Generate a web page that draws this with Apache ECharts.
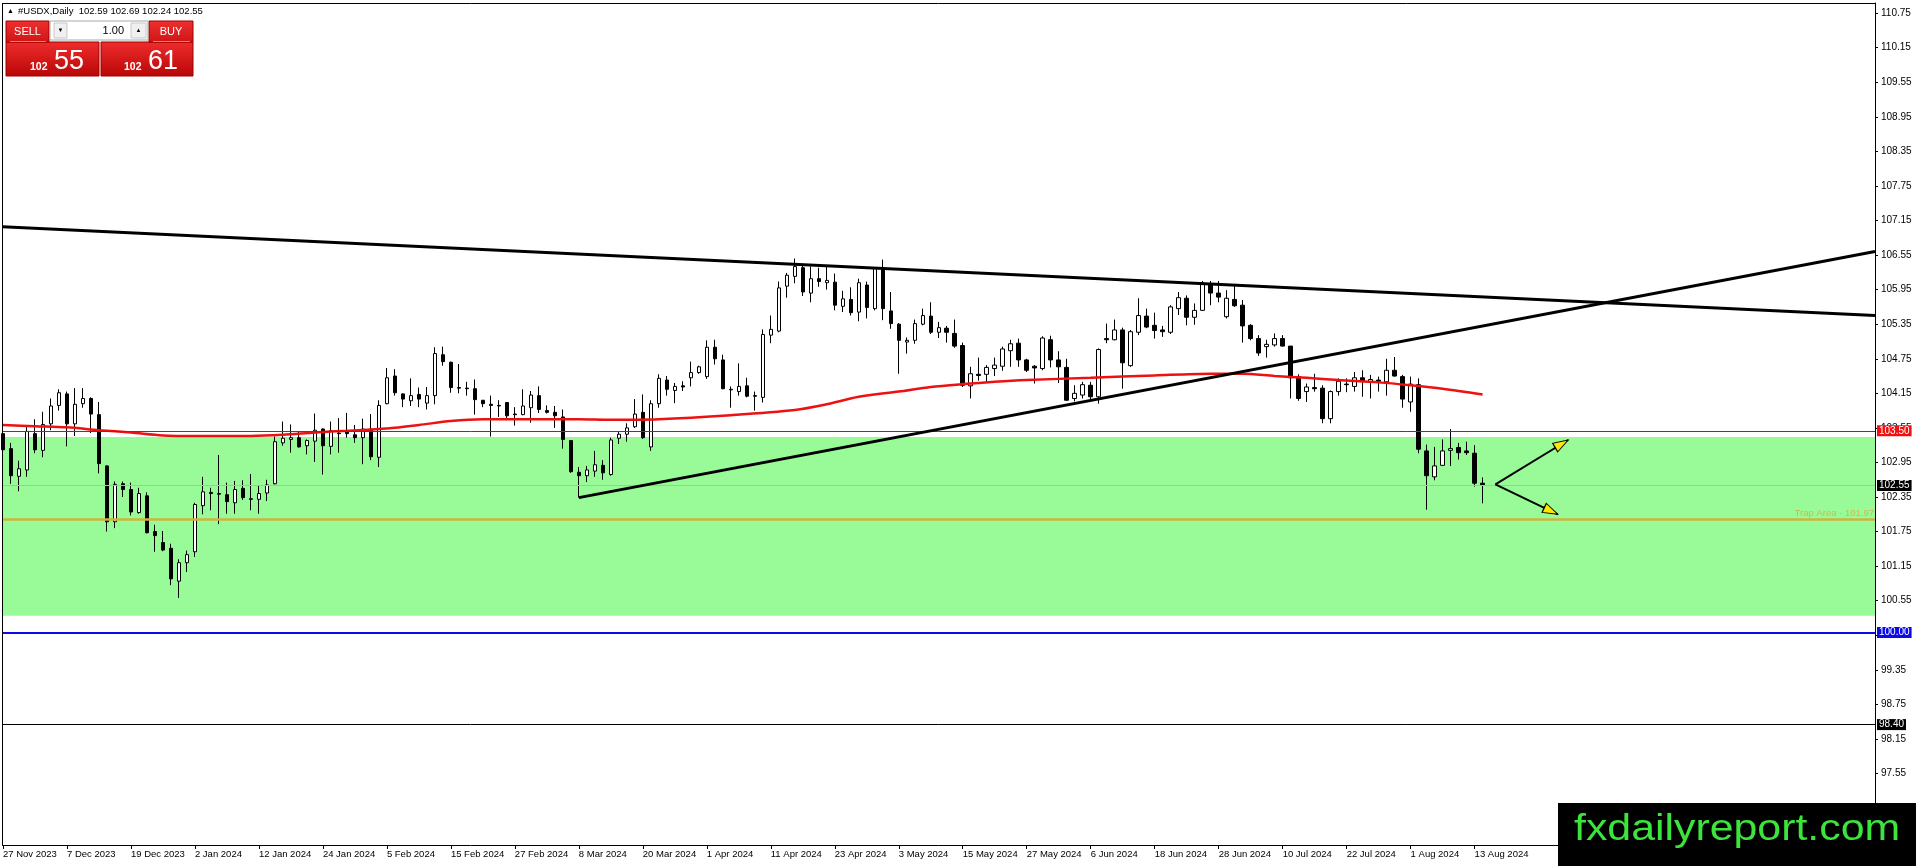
<!DOCTYPE html>
<html><head><meta charset="utf-8">
<script src="https://cdn.jsdelivr.net/npm/echarts@6/dist/echarts.min.js"></script>
<style>html,body{margin:0;padding:0;background:#fff;overflow:hidden}#c{width:1916px;height:866px;}</style>
</head><body><div id="c"></div>
<script>
const FONT = '"Liberation Sans", Arial, sans-serif';

// ---- OHLC (bar index 0 = 27 Nov 2023, daily bars) ----
const opens = [103.45,103.19,102.71,102.82,103.45,103.16,103.62,103.94,104.14,103.62,103.97,104.06,103.78,102.89,101.92,102.58,102.48,102.08,102.37,101.75,101.56,101.46,100.89,101.21,101.40,102.20,102.43,102.41,102.39,102.25,102.50,102.32,102.31,102.42,102.58,103.29,103.35,103.38,103.24,103.32,103.53,103.23,103.46,103.48,103.43,103.38,103.53,103.04,103.97,104.45,104.14,104.02,104.13,103.98,104.11,104.82,104.69,104.25,104.24,104.23,104.03,103.96,103.94,103.99,103.79,103.78,103.90,104.11,103.85,103.82,103.74,103.33,102.78,102.72,102.80,102.90,102.74,103.37,103.44,103.57,103.82,103.22,103.97,104.38,104.20,104.28,104.42,104.51,104.44,104.95,104.73,104.22,104.18,104.28,104.11,104.08,105.16,105.23,106.01,106.18,106.33,105.89,106.14,106.07,106.08,105.66,105.78,105.56,106.03,105.62,106.29,105.58,105.35,105.04,105.07,105.35,105.49,105.21,105.28,105.19,104.98,104.28,104.48,104.48,104.58,104.62,104.89,105.02,104.73,104.62,104.58,105.08,104.73,104.60,104.06,104.12,104.29,104.09,105.10,105.08,105.25,104.63,105.21,105.49,105.33,105.25,105.21,105.62,105.80,105.47,105.59,106.04,105.89,105.48,105.78,105.68,105.33,105.10,104.96,104.99,105.10,104.97,104.44,104.18,104.25,104.24,103.71,104.18,104.31,104.27,104.42,104.35,104.38,104.35,104.55,104.44,104.00,104.30,103.15,102.70,102.90,103.16,103.21,103.15,103.11,102.59];
const closes = [103.17,102.72,102.84,103.49,103.17,103.61,103.93,104.16,103.62,103.96,104.06,103.79,102.93,101.92,102.57,102.48,102.09,102.41,101.73,101.68,101.43,100.93,101.21,101.35,102.22,102.44,102.41,102.40,102.27,102.48,102.34,102.31,102.41,102.56,103.31,103.37,103.38,103.22,103.33,103.51,103.24,103.50,103.45,103.45,103.38,103.53,103.05,103.94,104.42,104.16,104.05,104.11,104.05,104.11,104.84,104.70,104.25,104.24,104.23,104.04,103.97,103.94,103.93,103.76,103.78,103.93,104.12,103.87,103.82,103.76,103.35,102.79,102.72,102.82,102.91,102.77,103.34,103.44,103.55,103.79,103.38,103.97,104.41,104.22,104.27,104.26,104.51,104.61,104.95,104.75,104.23,104.21,104.27,104.10,104.10,105.17,105.26,105.98,106.20,106.35,105.91,106.14,106.09,106.11,105.68,105.79,105.55,106.07,105.64,106.32,105.62,105.36,105.07,105.07,105.36,105.50,105.21,105.29,105.21,104.97,104.29,104.49,104.46,104.60,104.64,104.92,105.01,104.73,104.55,104.59,105.11,104.73,104.61,104.03,104.15,104.30,104.09,104.91,105.08,105.25,104.68,105.22,105.50,105.30,105.24,105.22,105.65,105.81,105.47,105.59,106.06,105.89,105.82,105.80,105.67,105.32,105.10,104.85,105.00,105.10,104.97,104.42,104.06,104.26,104.23,103.71,104.18,104.36,104.30,104.42,104.36,104.39,104.36,104.55,104.45,104.05,104.31,103.18,102.72,102.89,103.15,103.19,103.12,103.12,102.59,102.55];
const lows = [103.16,102.58,102.45,102.70,103.11,103.04,103.51,103.85,103.23,103.41,103.90,103.46,102.76,101.75,101.81,102.35,102.03,102.06,101.72,101.40,101.41,100.82,100.60,101.05,101.31,102.05,102.12,101.88,102.06,102.06,102.30,102.12,102.06,102.28,102.57,103.24,103.12,103.21,103.09,102.96,102.74,103.09,103.12,103.38,103.29,102.92,102.99,102.87,103.96,104.11,103.91,103.93,103.91,103.87,103.96,104.63,104.16,104.15,104.11,103.78,103.91,103.40,103.74,103.70,103.59,103.77,103.64,103.81,103.80,103.55,103.19,102.77,102.34,102.61,102.70,102.65,102.72,103.27,103.31,103.55,103.36,103.15,103.90,104.11,103.98,104.19,104.27,104.49,104.40,104.65,104.22,103.90,104.11,104.08,103.85,103.99,105.02,105.21,105.81,106.06,105.84,105.73,106.00,105.95,105.59,105.56,105.50,105.40,105.45,105.59,105.42,105.27,104.49,104.84,105.01,105.33,105.18,105.11,105.03,104.94,104.26,104.06,104.37,104.35,104.45,104.54,104.61,104.61,104.52,104.32,104.55,104.60,104.33,104.02,104.01,104.06,104.04,103.97,105.02,105.07,104.23,104.61,105.16,105.28,105.10,105.13,105.18,105.51,105.33,105.34,105.58,105.68,105.73,105.45,105.65,105.03,105.07,104.80,104.77,104.96,104.96,104.06,104.02,104.00,104.18,103.63,103.63,104.11,104.17,104.18,104.09,104.06,104.18,104.11,104.44,103.90,103.83,103.11,102.13,102.64,102.89,102.89,103.00,103.08,102.53,102.24];
const highs = [103.51,103.29,102.98,103.57,103.70,103.83,104.06,104.22,104.18,104.24,104.24,104.08,104.00,102.90,102.62,102.62,102.60,102.51,102.43,101.87,101.76,101.54,101.27,101.42,102.25,102.70,102.51,103.08,102.60,102.63,102.64,102.75,102.56,102.65,103.40,103.66,103.61,103.48,103.35,103.80,103.54,103.66,103.72,103.81,103.60,103.71,103.79,104.03,104.59,104.57,104.15,104.41,104.25,104.26,104.95,104.96,104.70,104.66,104.35,104.39,104.03,104.11,104.03,104.00,103.91,104.22,104.19,104.27,103.94,103.93,103.87,103.34,102.87,102.89,103.15,102.99,103.38,103.48,103.63,104.05,104.13,104.03,104.48,104.45,104.33,104.36,104.70,104.63,105.07,105.08,104.82,104.27,104.67,104.42,104.18,105.26,105.50,106.09,106.24,106.49,106.37,106.35,106.33,106.37,106.23,105.93,105.99,106.14,106.09,106.33,106.47,105.91,105.37,105.12,105.43,105.62,105.73,105.39,105.32,105.43,105.03,104.61,104.77,104.64,104.77,104.96,105.08,105.10,104.75,104.64,105.14,105.15,104.88,104.75,104.29,104.35,104.35,104.93,105.36,105.43,105.29,105.25,105.80,105.62,105.55,105.32,105.68,105.91,105.85,105.71,106.10,106.10,106.10,105.94,106.03,105.77,105.35,105.16,105.08,105.19,105.16,104.97,104.48,104.32,104.49,104.29,104.20,104.41,104.41,104.52,104.55,104.47,104.44,104.75,104.78,104.47,104.44,104.41,103.26,103.22,103.35,103.53,103.29,103.31,103.25,102.69];

// ---- moving average, read at sampled bars ----
const maIdx = [0,4,8,12,16,20,24,31,35,39,43,48,52,56,60,72,76,82,91,99,103,107,112,116,120,124,128,136,144,151,155,159,163,167,172,176,180,185];
const maVal = [103.60,103.58,103.56,103.51,103.47,103.42,103.41,103.41,103.43,103.47,103.50,103.54,103.60,103.67,103.70,103.70,103.69,103.70,103.77,103.86,103.96,104.09,104.18,104.26,104.31,104.35,104.38,104.42,104.46,104.49,104.49,104.45,104.42,104.38,104.34,104.29,104.23,104.13];

// ---- axis tick labels ----
const xTickLabels = ['27 Nov 2023','7 Dec 2023','19 Dec 2023','2 Jan 2024','12 Jan 2024','24 Jan 2024','5 Feb 2024','15 Feb 2024','27 Feb 2024','8 Mar 2024','20 Mar 2024','1 Apr 2024','11 Apr 2024','23 Apr 2024','3 May 2024','15 May 2024','27 May 2024','6 Jun 2024','18 Jun 2024','28 Jun 2024','10 Jul 2024','22 Jul 2024','1 Aug 2024','13 Aug 2024'];
const BARS_PER_LABEL = 8;
const yTicks = [96.35,96.95,97.55,98.15,98.75,99.35,99.95,100.55,101.15,101.75,102.35,102.95,103.55,104.15,104.75,105.35,105.95,106.55,107.15,107.75,108.35,108.95,109.55,110.15,110.75];

// ---- levels, zone, drawings ----
const levelResist = 103.50, levelBid = 102.55, levelTrap = 101.97, levelSupport = 100.00, levelLow = 98.40;
const zoneTop = 103.39, zoneBottom = 100.29;
const upperTrend = [[-0.0625, 107.04], [234.0625, 105.50]];
const lowerTrend = [[72, 102.34], [234.0625, 106.61]];
const arrowUp = [[186.6, 102.57], [195.7, 103.34]];
const arrowDown = [[186.6, 102.57], [194.4, 102.05]];
const header = '#USDX,Daily  102.59 102.69 102.24 102.55';

const xTickIdx = xTickLabels.map((_, k) => k * BARS_PER_LABEL);
const candleData = opens.map((o, i) => [i, o, closes[i], lows[i], highs[i]]);
const maData = maIdx.map((x, k) => [x, maVal[k]]);

const chart = echarts.init(document.getElementById('c'), null, {renderer: 'canvas'});

function boxLabel(bg) {
  return {show: true, position: 'end', distance: 2, formatter: (p) => p.value.toFixed(2),
    color: '#fff', backgroundColor: bg, padding: [1, 2, 0, 2], fontSize: 10, fontFamily: FONT, lineHeight: 10};
}
const grad = {type: 'linear', x: 0, y: 0, x2: 0, y2: 1, colorStops: [{offset: 0, color: '#F02C2C'}, {offset: 1, color: '#B80606'}]};
const gradBtn = {type: 'linear', x: 0, y: 0, x2: 0, y2: 1, colorStops: [{offset: 0, color: '#EE3030'}, {offset: 1, color: '#D01414'}]};

chart.setOption({
  animation: false,
  backgroundColor: '#fff',
  grid: {left: 2, top: 3, width: 1873, height: 842, show: false},
  xAxis: {
    type: 'value', min: -0.0625, max: 234.0625,
    axisLine: {show: true, onZero: false, lineStyle: {color: '#000', width: 1}},
    axisTick: {show: true, customValues: xTickIdx, length: 4, inside: false, lineStyle: {color: '#000'}},
    axisLabel: {show: true, customValues: xTickIdx, formatter: (v) => xTickLabels[Math.round(v / BARS_PER_LABEL)] || '',
      align: 'left', margin: 4, fontSize: 9.5, fontFamily: FONT, color: '#000'},
    splitLine: {show: false}, minorTick: {show: false}, minorSplitLine: {show: false}
  },
  yAxis: {
    type: 'value', position: 'right', min: 96.31, max: 110.925,
    axisLine: {show: true, onZero: false, lineStyle: {color: '#000', width: 1}},
    axisTick: {show: true, customValues: yTicks, length: 3, inside: false, lineStyle: {color: '#000'}},
    axisLabel: {show: true, customValues: yTicks, formatter: (v) => v.toFixed(2), margin: 6, fontSize: 10, fontFamily: FONT, color: '#000'},
    splitLine: {show: false}, minorTick: {show: false}, minorSplitLine: {show: false}
  },
  series: [
    {
      name: 'levels', type: 'line', data: [], z: 1, silent: true,
      markArea: {silent: true, itemStyle: {color: '#98FB98', opacity: 1}, data: [[{yAxis: zoneTop}, {yAxis: zoneBottom}]]},
      markLine: {silent: true, symbol: ['none', 'none'], animation: false,
        data: [
          {yAxis: levelResist, lineStyle: {color: '#C81010', width: 1, type: 'solid'}, label: boxLabel('#F01010')},
          {yAxis: levelBid, lineStyle: {color: '#B8B8B8', width: 1, type: 'solid'}, label: boxLabel('#000')},
          {yAxis: levelTrap, lineStyle: {color: '#CDB43C', width: 2.5, type: 'solid'},
            label: {show: true, position: 'insideEndTop', distance: 1, formatter: 'Trap Area - 101.97', color: '#D6B44A', fontSize: 9.5, fontFamily: FONT}},
          {yAxis: levelSupport, lineStyle: {color: '#0A0AE6', width: 2, type: 'solid'}, label: boxLabel('#0A0AE6')},
          {yAxis: levelLow, lineStyle: {color: '#000', width: 1, type: 'solid'}, label: boxLabel('#000')}
        ]}
    },
    {
      name: 'USDX', type: 'candlestick', z: 3, barWidth: 4,
      dimensions: ['idx', 'open', 'close', 'lowest', 'highest'],
      encode: {x: 0, y: [1, 2, 3, 4]},
      data: candleData,
      itemStyle: {color: '#FFFFFF', color0: '#000000', borderColor: '#000000', borderColor0: '#000000', borderWidth: 1}
    },
    {name: 'MA', type: 'line', z: 4, data: maData, showSymbol: false, smooth: 0.3,
      lineStyle: {color: '#EE1111', width: 2.5}},
    {name: 'upper', type: 'line', z: 5, data: upperTrend, showSymbol: false, lineStyle: {color: '#000', width: 3}},
    {name: 'lower', type: 'line', z: 5, data: lowerTrend, showSymbol: false, lineStyle: {color: '#000', width: 3}},
    {name: 'arrowUp', type: 'line', z: 6, data: arrowUp, showSymbol: false, lineStyle: {color: '#000', width: 2}},
    {name: 'arrowDown', type: 'line', z: 6, data: arrowDown, showSymbol: false, lineStyle: {color: '#000', width: 2}},
    {name: 'heads', type: 'scatter', z: 7, symbol: 'triangle',
      data: [
        {value: arrowUp[1], symbolRotate: -60, symbolOffset: [-6.5, 3.8]},
        {value: arrowDown[1], symbolRotate: -115, symbolOffset: [-6.8, -3.2]}
      ],
      symbolSize: [10, 15],
      itemStyle: {color: '#FFE600', borderColor: '#000', borderWidth: 1, opacity: 1}}
  ],
  graphic: [
    // plot frame (left and top edges)
    {type: 'line', z: 50, shape: {x1: 2.5, y1: 3, x2: 2.5, y2: 845}, style: {stroke: '#000', lineWidth: 1}},
    {type: 'line', z: 50, shape: {x1: 2, y1: 3.5, x2: 1875, y2: 3.5}, style: {stroke: '#000', lineWidth: 1}},
    {type: 'text', x: 7, y: 11, style: {text: '▲', font: '7px ' + FONT, fill: '#000', verticalAlign: 'middle'}},
    {type: 'text', x: 18, y: 11, style: {text: header, font: '9.5px ' + FONT, fill: '#000', verticalAlign: 'middle'}},
    // trade panel
    {type: 'rect', shape: {x: 6, y: 42, width: 93, height: 34}, style: {fill: grad, stroke: '#9E0000', lineWidth: 1}},
    {type: 'rect', shape: {x: 101, y: 42, width: 92, height: 34}, style: {fill: grad, stroke: '#9E0000', lineWidth: 1}},
    {type: 'rect', shape: {x: 6, y: 21, width: 43, height: 21}, style: {fill: gradBtn, stroke: '#9E0000', lineWidth: 1}},
    {type: 'rect', shape: {x: 149, y: 21, width: 44, height: 21}, style: {fill: gradBtn, stroke: '#9E0000', lineWidth: 1}},
    {type: 'line', shape: {x1: 10, y1: 41.5, x2: 46, y2: 41.5}, style: {stroke: '#F47A7A', lineWidth: 1}},
    {type: 'line', shape: {x1: 153, y1: 41.5, x2: 190, y2: 41.5}, style: {stroke: '#F47A7A', lineWidth: 1}},
    {type: 'rect', shape: {x: 50, y: 21, width: 98, height: 19}, style: {fill: '#FFFFFF', stroke: '#A8A8A8', lineWidth: 1}},
    {type: 'rect', shape: {x: 54, y: 23, width: 13, height: 15}, style: {fill: '#F0F0F0', stroke: '#C8C8C8', lineWidth: 1}},
    {type: 'rect', shape: {x: 131, y: 23, width: 15, height: 15}, style: {fill: '#F0F0F0', stroke: '#C8C8C8', lineWidth: 1}},
    {type: 'text', x: 60.5, y: 30.5, style: {text: '▼', font: '6px ' + FONT, fill: '#000', align: 'center', verticalAlign: 'middle'}},
    {type: 'text', x: 138.5, y: 30.5, style: {text: '▲', font: '6px ' + FONT, fill: '#000', align: 'center', verticalAlign: 'middle'}},
    {type: 'text', x: 124, y: 31, style: {text: '1.00', font: '11px ' + FONT, fill: '#000', align: 'right', verticalAlign: 'middle'}},
    {type: 'text', x: 27.5, y: 31.5, style: {text: 'SELL', font: '11px ' + FONT, fill: '#fff', align: 'center', verticalAlign: 'middle'}},
    {type: 'text', x: 171, y: 31.5, style: {text: 'BUY', font: '11px ' + FONT, fill: '#fff', align: 'center', verticalAlign: 'middle'}},
    {type: 'text', x: 30, y: 72.5, style: {text: '102', font: 'bold 10.5px ' + FONT, fill: '#fff', verticalAlign: 'bottom'}},
    {type: 'text', x: 54, y: 75, style: {text: '55', font: '27px ' + FONT, fill: '#fff', verticalAlign: 'bottom'}},
    {type: 'text', x: 124, y: 72.5, style: {text: '102', font: 'bold 10.5px ' + FONT, fill: '#fff', verticalAlign: 'bottom'}},
    {type: 'text', x: 148, y: 75, style: {text: '61', font: '27px ' + FONT, fill: '#fff', verticalAlign: 'bottom'}},
    // watermark box
    {type: 'rect', z: 100, shape: {x: 1558, y: 803, width: 358, height: 63}, style: {fill: '#000'}},
    {type: 'text', z: 101, x: 1574, y: 830, scaleX: 1.19, style: {text: 'fxdailyreport.com', font: '36px ' + FONT, fill: '#3BE53B', verticalAlign: 'middle'}}
  ]
});
</script>
</body></html>
